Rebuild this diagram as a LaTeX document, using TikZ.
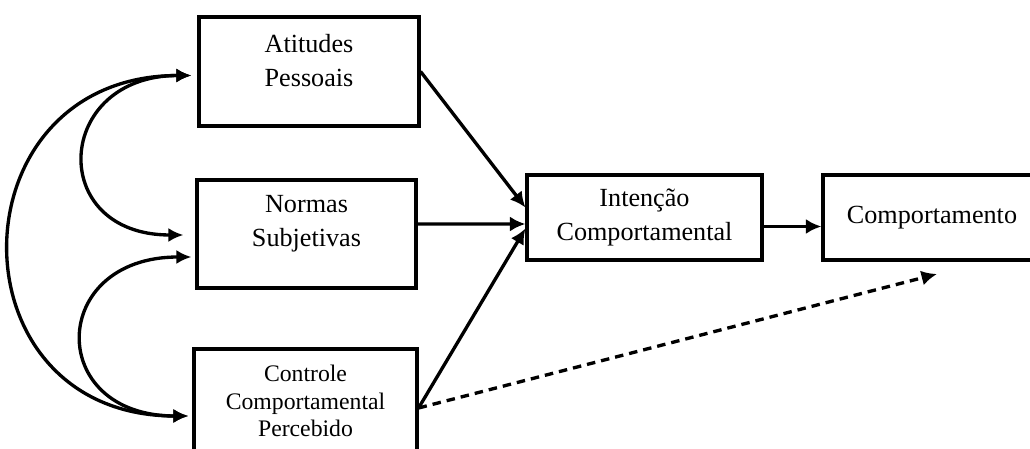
\documentclass[tikz,border=0pt]{standalone}
\usepackage{fontspec}
\setmainfont{Liberation Serif}
\usetikzlibrary{arrows.meta,calc}

\tikzset{
  box/.style={draw, line width=1.8pt, align=center, inner sep=0pt,
    font=\fontsize{14.9}{19.5}\selectfont},
  txt/.style={align=center, inner sep=0pt, font=\fontsize{14.9}{19.5}\selectfont},
  arrow/.style={line width=1.9pt, -{Latex[length=3.1mm,width=3mm]}},
  dasharrow/.style={arrow, dash pattern=on 0.17cm off 0.12cm},
  twoway/.style={line width=1.9pt,
    {Latex[length=3mm,width=2.8mm]}-{Latex[length=3mm,width=2.8mm]}}
}

\begin{document}
\begin{tikzpicture}[x=0.02cm, y=-0.02cm]
  \useasboundingbox (0,0) rectangle (1030,449);
  \clip (0,0) rectangle (1030,449);

  % the three antecedents
  \node[box, minimum width=4.4cm, minimum height=2.18cm] (att) at (309,71.5) {};
  \node[txt] (atttxt) at (309,60.5) {Atitudes\\Pessoais};
  \node[box, minimum width=4.38cm, minimum height=2.16cm] (nor) at (306.5,234) {};
  \node[txt] (nortxt) at (306.5,223.5) {Normas\\Subjetivas};
  \node[box, minimum width=4.46cm, minimum height=2.08cm,
    font=\fontsize{13.5}{15.6}\selectfont] (con) at (305.5,401)
    {Controle\\Comportamental\\Percebido};

  % intention and behaviour
  \node[box, minimum width=4.7cm, minimum height=1.7cm] (int) at (644.5,217.5)
    {Intenção\\Comportamental};
  \node[box, minimum width=4.36cm, minimum height=1.7cm] (comp) at (932,217.5)
    {Comportamento};
  \coordinate (dashend) at (937,274);

  % paths
  \draw[arrow] (att.east) -- ($(int.west)+(0,-10)$);
  \draw[arrow] ($(nor.east)+(0,-10)$) -- ($(int.west)+(0,6.5)$);
  \draw[arrow] ($(con.east)+(0,7)$) -- ($(int.west)+(0,11)$);
  \draw[arrow] ($(int.east)+(0,9)$) -- ($(comp.west)+(0,9)$);
  \draw[dasharrow] ($(con.east)+(0,7)$) -- (dashend);

  % correlations
  \draw[twoway] ($(att.west)+(-6,4)$) to[out=180,in=180,looseness=2.2] ($(nor.west)+(-12,1)$);
  \draw[twoway] ($(att.west)+(-6,4)$) to[out=180,in=180,looseness=1.8] ($(con.west)+(-4,15)$);
  \draw[twoway] ($(nor.west)+(-4,23)$) to[out=180,in=180,looseness=2.3] ($(con.west)+(-4,15)$);
\end{tikzpicture}
\end{document}
